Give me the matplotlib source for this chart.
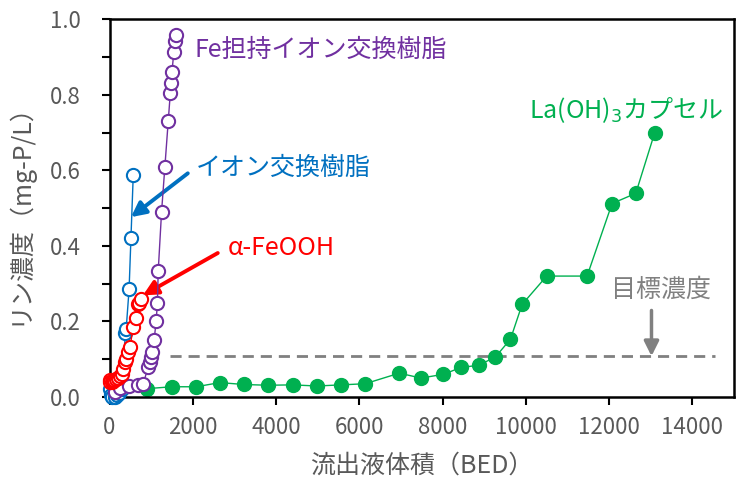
import matplotlib
matplotlib.use("Agg")
import matplotlib.pyplot as plt
from matplotlib.ticker import MultipleLocator

plt.rcParams['font.family'] = ['Noto Sans CJK JP', 'DejaVu Sans']

# ---- data ----
green_x = [900, 1500, 2080, 2650, 3230, 3800, 4400, 4980, 5560, 6140, 6960, 7480,
           8020, 8440, 8870, 9270, 9630, 9910, 10500, 11470, 12070, 12640, 13090]
green_y = [0.022, 0.027, 0.027, 0.038, 0.033, 0.031, 0.032, 0.029, 0.032, 0.035, 0.063,
           0.050, 0.060, 0.078, 0.084, 0.106, 0.153, 0.245, 0.320, 0.320, 0.512, 0.539, 0.698]

blue_x = [0, 30, 70, 120, 170, 230, 300, 380, 400, 470, 515, 570]
blue_y = [0.02, 0.005, 0.0, 0.0, 0.005, 0.01, 0.02, 0.168, 0.18, 0.285, 0.422, 0.587]

purple_x = [120, 250, 470, 690, 810, 930, 970, 990, 1010, 1070, 1120, 1150, 1170,
            1250, 1330, 1410, 1460, 1475, 1500, 1545, 1570, 1600]
purple_y = [0.012, 0.025, 0.028, 0.031, 0.035, 0.080, 0.093, 0.106, 0.120, 0.150, 0.200,
            0.250, 0.334, 0.490, 0.610, 0.730, 0.804, 0.830, 0.860, 0.914, 0.941, 0.958]

red_x = [0, 20, 50, 80, 110, 150, 210, 250, 292, 330, 371, 395, 436, 491, 570, 627, 675, 700, 747]
red_y = [0.045, 0.04, 0.04, 0.042, 0.045, 0.048, 0.049, 0.055, 0.062, 0.075, 0.093, 0.10,
         0.119, 0.132, 0.185, 0.209, 0.245, 0.25, 0.259]

target_y = 0.108
target_x = [1450, 14550]

x_ticks = [0, 2000, 4000, 6000, 8000, 10000, 12000, 14000]
y_ticks = [0.0, 0.2, 0.4, 0.6, 0.8, 1.0]

GREEN = '#00B050'
BLUE = '#0070C0'
PURPLE = '#7030A0'
RED = '#FF0000'
GRAY = '#808080'
TXT = '#595959'

fig = plt.figure(figsize=(7.37, 4.80), dpi=100)
ax = fig.add_axes([0.1486, 0.173, 0.8474, 0.787])

ax.plot(target_x, [target_y, target_y], color=GRAY, lw=2, dashes=(4, 2.5), zorder=1)

ax.plot(green_x, green_y, color=GREEN, lw=1, marker='o', ms=10,
        mfc=GREEN, mec=GREEN, zorder=2, clip_on=False)
ax.plot(blue_x, blue_y, color=BLUE, lw=1, marker='o', ms=9.5,
        mfc='white', mec=BLUE, mew=1.5, zorder=3, clip_on=False)
ax.plot(purple_x, purple_y, color=PURPLE, lw=1, marker='o', ms=9.5,
        mfc='white', mec=PURPLE, mew=1.5, zorder=4, clip_on=False)
ax.plot(red_x, red_y, color=RED, lw=1, marker='o', ms=9.5,
        mfc='white', mec=RED, mew=1.5, zorder=5, clip_on=False)

ax.set_xlim(0, 15000)
ax.set_ylim(0, 1.0)
ax.set_xticks(x_ticks)
ax.set_xticklabels([str(v) for v in x_ticks])
ax.set_yticks(y_ticks)
ax.set_yticklabels([f"{v:.1f}" for v in y_ticks])
ax.yaxis.set_minor_locator(MultipleLocator(0.1))

for s in ax.spines.values():
    s.set_linewidth(1.8)
    s.set_color('black')
ax.tick_params(which='both', direction='out', length=5.5, width=1.5, color='black')
ax.tick_params(axis='both', labelsize=16, labelcolor=TXT)
ax.tick_params(axis='x', pad=8)
ax.tick_params(axis='y', pad=15)

ax.set_xlabel('流出液体積（BED）', fontsize=18, color=TXT, labelpad=10)
ax.set_ylabel('リン濃度（mg-P/L）', fontsize=18, color=TXT, labelpad=13)

# annotations
ax.text(2050, 0.919, 'Fe担持イオン交換樹脂', color=PURPLE, fontsize=18, va='center', ha='left')
ax.text(2070, 0.606, 'イオン交換樹脂', color=BLUE, fontsize=18, va='center', ha='left')
ax.annotate('', xy=(515, 0.476), xytext=(1880, 0.592),
            arrowprops=dict(arrowstyle='-|>', color=BLUE, lw=2.8, mutation_scale=22,
                            shrinkA=0, shrinkB=0))
ax.text(2840, 0.394, 'α-FeOOH', color=RED, fontsize=18, va='center', ha='left')
ax.annotate('', xy=(802, 0.269), xytext=(2600, 0.381),
            arrowprops=dict(arrowstyle='-|>', color=RED, lw=2.8, mutation_scale=22,
                            shrinkA=0, shrinkB=0))
ax.text(10070, 0.76, 'La(OH)$_3$カプセル', color=GREEN, fontsize=18, va='center', ha='left')
ax.text(12035, 0.283, '目標濃度', color=GRAY, fontsize=18, va='center', ha='left')
ax.annotate('', xy=(13017, target_y), xytext=(13017, 0.229),
            arrowprops=dict(arrowstyle='-|>', color=GRAY, lw=2.5, mutation_scale=22,
                            shrinkA=0, shrinkB=0))

fig.savefig('out.png', dpi=100)
